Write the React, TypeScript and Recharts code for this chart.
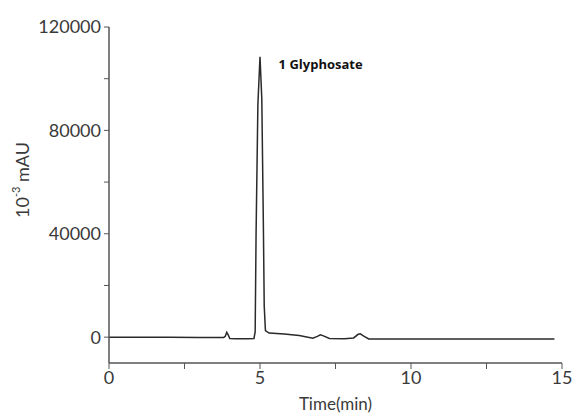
import React from "react";
import { LineChart, Line, XAxis, YAxis, ReferenceDot } from "recharts";

const times = [0, 1, 2, 3, 3.8, 3.85, 3.9, 3.95, 4.0, 4.2, 4.6, 4.8, 4.84, 4.87, 4.93, 5.0, 5.06, 5.11, 5.14, 5.18, 5.3, 5.8, 6.3, 6.75, 6.9, 7.0, 7.1, 7.3, 7.8, 8.1, 8.25, 8.32, 8.45, 8.6, 10, 12, 14.75];
const signal = [0, 0, 0, -100, -100, 300, 1900, 800, -500, -600, -600, -500, 2000, 40000, 90000, 108500, 92000, 45000, 12000, 2500, 1600, 1200, 600, -400, 300, 900, 500, -500, -600, -300, 1100, 1300, 300, -700, -700, -700, -700];
const xTicks = [0, 2.5, 5, 7.5, 10, 12.5, 15];
const xLabeled = [0, 5, 10, 15];
const yTicks = [0, 20000, 40000, 60000, 80000, 100000, 120000];
const yLabeled = [0, 40000, 80000, 120000];
const peakName = "1 Glyphosate";
const peakLabelPos = { time: 5.45, value: 105500 };

const data = times.map((t, i) => ({ t, v: signal[i] }));

const FONT = "Lato, 'DejaVu Sans', sans-serif";
const TEXT = "#3a3a3a";
const AXIS = "#555";

const YLabel = () => (
  <text
    x={24}
    y={180}
    transform="rotate(-90 24 180)"
    textAnchor="middle"
    dominantBaseline="middle"
    fill={TEXT}
    fontFamily={FONT}
    fontSize={18}
  >
    10<tspan dy={-7} fontSize={11}>-3</tspan>
    <tspan dy={7}> mAU</tspan>
  </text>
);

export default function App() {
  return (
    <div style={{ position: "absolute", left: 0, top: 0, background: "#fff" }}>
      <LineChart width={576} height={415} data={data} margin={{ top: 27, right: 14, bottom: 0, left: 0 }}>
        <XAxis
          dataKey="t"
          type="number"
          domain={[0, 15]}
          ticks={xTicks}
          interval={0}
          height={52}
          tickFormatter={(v: number) => (xLabeled.includes(v) ? String(v) : "")}
          tick={{ fill: TEXT, fontSize: 18, fontFamily: FONT }}
          tickSize={6}
          tickMargin={2}
          stroke={AXIS}
          axisLine={{ stroke: AXIS, strokeWidth: 1.5 }}
          label={{ value: "Time(min)", position: "insideBottom", offset: 0, fill: TEXT, fontSize: 17, fontFamily: FONT, dy: -5 }}
        />
        <YAxis
          type="number"
          domain={[-10000, 120000]}
          ticks={yTicks}
          interval={0}
          width={109}
          tickFormatter={(v: number) => (yLabeled.includes(v) ? String(v) : "")}
          tick={{ fill: TEXT, fontSize: 18, fontFamily: FONT }}
          tickSize={5}
          tickMargin={3}
          stroke={AXIS}
          axisLine={{ stroke: AXIS, strokeWidth: 1.5 }}
          label={<YLabel />}
        />
        <Line
          type="linear"
          dataKey="v"
          stroke="#2a2a2a"
          strokeWidth={1.5}
          dot={false}
          isAnimationActive={false}
        />
        <ReferenceDot
          x={peakLabelPos.time}
          y={peakLabelPos.value}
          r={0}
          stroke="none"
          fill="none"
          label={{ value: peakName, position: "right", fill: "#111", fontSize: 13, fontWeight: 700, fontFamily: "'Open Sans', sans-serif" }}
        />
      </LineChart>
    </div>
  );
}
